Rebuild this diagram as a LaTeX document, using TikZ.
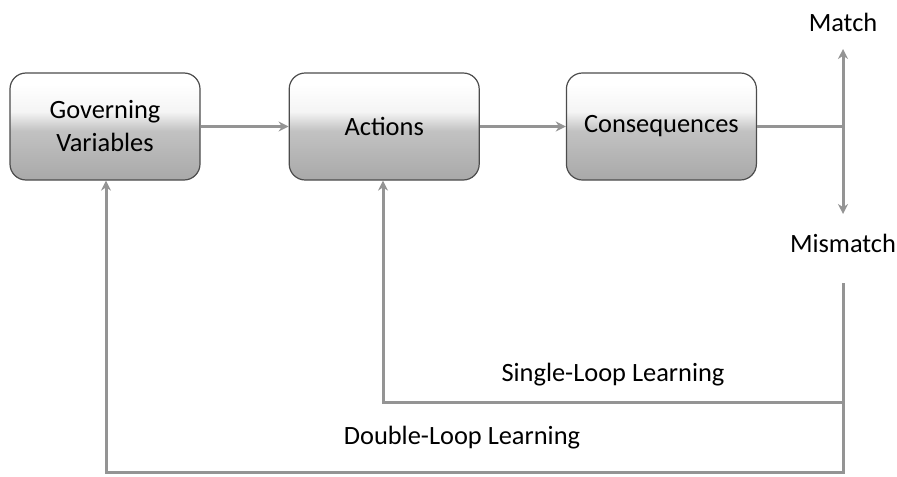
\documentclass[tikz,border=0pt]{standalone}
\usepackage{fontspec}
\setmainfont{Carlito}
\usepackage{tikz}
\usetikzlibrary{arrows.meta, positioning, calc}

\pgfdeclareverticalshading{boxshade}{100bp}{%
  color(0bp)=(black!42); color(20bp)=(black!36); color(48bp)=(black!24);
  color(57bp)=(black!4); color(70bp)=(white); color(100bp)=(white)}

\begin{document}
\begin{tikzpicture}[
    x=0.5pt, y=0.5pt,
    font=\fontsize{13.2}{16.5}\selectfont,
    box/.style={draw=black!70, line width=0.6pt, shading=boxshade, rounded corners=8pt,
        align=center, minimum width=95pt, minimum height=53.5pt, inner sep=2pt},
    lbl/.style={align=center, inner sep=1pt},
    arrow/.style={-{Stealth[length=5pt, width=5pt]}, line width=1.5pt, draw=black!42},
    wire/.style={line width=1.5pt, draw=black!42}
]
    \useasboundingbox (0,0) rectangle (897,-476);

    % Main chain
    \node[box] (gv) at (105,-126.5) {Governing\\Variables};
    \node[box, right=44pt of gv] (act) {Actions};
    \node[box, right=43pt of act] (cons) {Consequences};

    % Outcome labels
    \node[lbl] (match) at (843,-22) {Match};
    \node[lbl] (mis) at (843,-243) {Mismatch};
    \coordinate (fork) at (843,-126.5);
    \coordinate (drop) at (843,-283);

    \node[lbl] (single) at (613,-375) {Single-Loop Learning};
    \node[lbl] (double) at (462,-438) {Double-Loop Learning};

    % Connectors
    \draw[arrow] (gv) -- (act);
    \draw[arrow] (act) -- (cons);
    \draw[wire] (cons) -- (fork);
    \draw[arrow] (fork) -- (843,-49);
    \draw[arrow] (fork) -- (843,-214);

    % Feedback loops
    \draw[arrow] (drop) |- (383,-402) -- (act.south -| 383,0);
    \draw[arrow] (drop) |- (106,-472) -- (gv.south -| 106,0);
\end{tikzpicture}
\end{document}
